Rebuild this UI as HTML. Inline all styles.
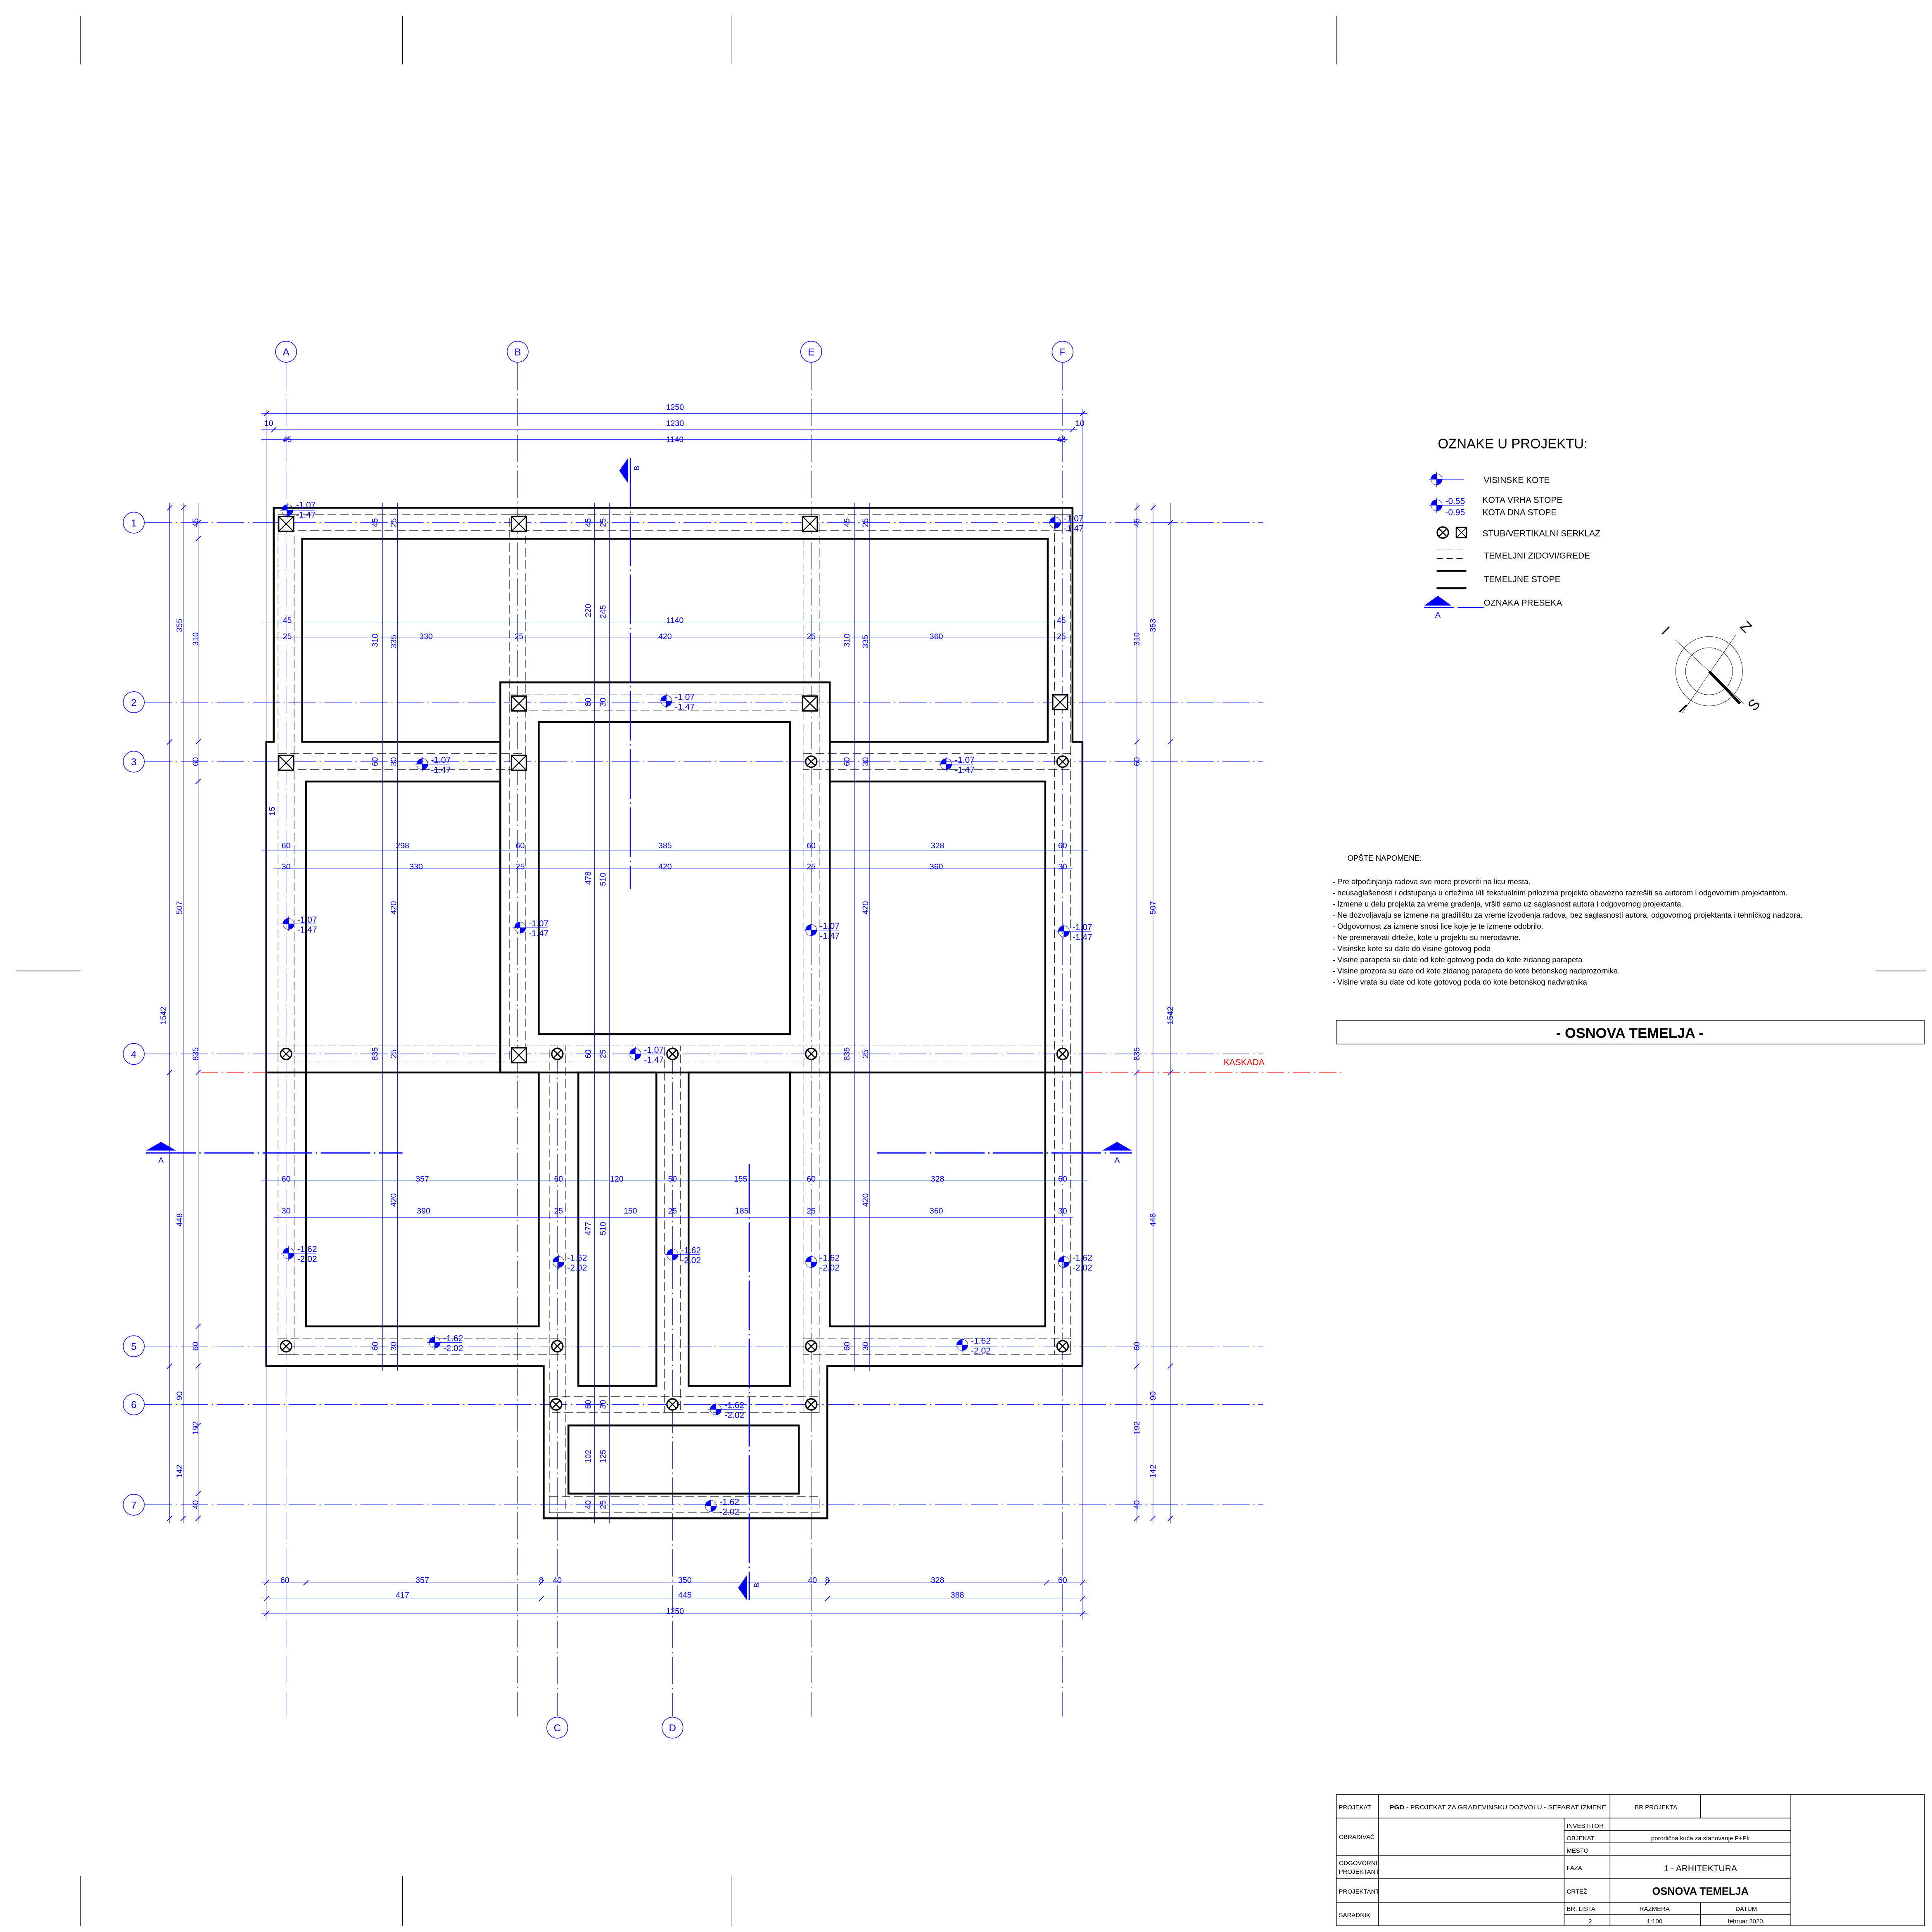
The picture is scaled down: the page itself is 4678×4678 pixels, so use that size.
<!DOCTYPE html>
<html><head><meta charset="utf-8"><style>html,body{margin:0;padding:0;background:#fff}svg{display:block}</style></head><body>
<svg xmlns="http://www.w3.org/2000/svg" xmlns:xlink="http://www.w3.org/1999/xlink" width="4678" height="4678" viewBox="0 0 1560 1560" font-family="'Liberation Sans Narrow','Liberation Sans',sans-serif">
<defs>
<g id="lv"><circle r="4.5" fill="none" stroke="#00f" stroke-width="0.3"/><path d="M0,0L0,-4.5A4.5,4.5 0 0 0 -4.5,0Z M0,0L0,4.5A4.5,4.5 0 0 0 4.5,0Z" fill="#00f"/><line x1="-6" y1="0" x2="22" y2="0" stroke="#00f" stroke-width="0.3"/><line x1="0" y1="-6" x2="0" y2="6" stroke="#00f" stroke-width="0.3"/></g>
<g id="sq"><rect x="-6" y="-6" width="12" height="12" fill="#fff" stroke="#000" stroke-width="1.1"/><path d="M-6,-6L6,6M6,-6L-6,6" stroke="#000" stroke-width="0.8"/></g>
<g id="ci"><circle r="4.5" fill="#fff" stroke="#000" stroke-width="1.1"/><path d="M-3.2,-3.2L3.2,3.2M3.2,-3.2L-3.2,3.2" stroke="#000" stroke-width="0.9"/></g>
</defs>
<rect width="1560" height="1560" fill="#fff"/>
<g stroke="#000" stroke-width="0.4">
<path d="M65,13V52M325,13V52M591,13V52M1079,13V52M65,1515V1555M325,1515V1555M591,1515V1555M13,784H65M1515,784H1555"/>
</g>
<g stroke="#00f" stroke-width="0.35" stroke-dasharray="22,3,1,3" fill="none">
<path d="M231,293V1386M418,293V1386M655,293V1386M858,293V1386M450,845V1386M543,845V1386"/>
<path d="M117,422H1020M117,567H1020M117,615H1020M117,851H1020M117,1087H1020M117,1134H1020M117,1215H1020"/>
</g>
<g fill="none" stroke="#00f" stroke-width="0.5">
<circle cx="231" cy="284" r="8.5"/><circle cx="418" cy="284" r="8.5"/><circle cx="655" cy="284" r="8.5"/><circle cx="858" cy="284" r="8.5"/>
<circle cx="450" cy="1395" r="8.5"/><circle cx="543" cy="1395" r="8.5"/>
<circle cx="108" cy="422" r="8.5"/><circle cx="108" cy="567" r="8.5"/><circle cx="108" cy="615" r="8.5"/><circle cx="108" cy="851" r="8.5"/><circle cx="108" cy="1087" r="8.5"/><circle cx="108" cy="1134" r="8.5"/><circle cx="108" cy="1215" r="8.5"/>
</g>
<g fill="#00f" font-size="8" text-anchor="middle">
<text x="231" y="287">A</text><text x="418" y="287">B</text><text x="655" y="287">E</text><text x="858" y="287">F</text>
<text x="450" y="1398">C</text><text x="543" y="1398">D</text>
<text x="108" y="425">1</text><text x="108" y="570">2</text><text x="108" y="618">3</text><text x="108" y="854">4</text><text x="108" y="1090">5</text><text x="108" y="1137">6</text><text x="108" y="1218">7</text>
</g>
<g fill="none" stroke="#000" stroke-width="0.35" stroke-dasharray="7,3">
<rect x="224.5" y="415.5" width="640" height="13"/>
<rect x="224.5" y="415.5" width="13" height="678"/>
<rect x="851.5" y="415.5" width="13" height="678"/>
<rect x="411.5" y="415.5" width="13" height="442"/>
<rect x="648.5" y="415.5" width="13" height="725"/>
<rect x="411.5" y="560.5" width="250" height="13"/>
<rect x="224.5" y="608.5" width="200" height="13"/>
<rect x="648.5" y="608.5" width="216" height="13"/>
<rect x="224.5" y="844.5" width="640" height="13"/>
<rect x="224.5" y="1080.5" width="232" height="13"/>
<rect x="648.5" y="1080.5" width="216" height="13"/>
<rect x="443.5" y="844.5" width="13" height="377"/>
<rect x="536.5" y="844.5" width="13" height="296"/>
<rect x="443.5" y="1127.5" width="218" height="13"/>
<rect x="443.5" y="1208.5" width="218" height="13"/>
</g>
<line x1="162" y1="866" x2="1085" y2="866" stroke="#f00" stroke-width="0.35" stroke-dasharray="14,3,1,3"/>
<text x="988" y="860" fill="#f00" font-size="7">KASKADA</text>
<g fill="none" stroke="#000" stroke-width="1.5" stroke-linejoin="miter">
<path d="M221,410H866V599H874V1103H668V1226H439V1103H215V599H221Z"/>
<line x1="215" y1="866" x2="874" y2="866"/>
<path d="M244,435H846V599H670V551H404V599H244Z"/>
<rect x="435" y="583" width="203" height="252"/>
<path d="M247,631H404V866H435V1071H247Z"/>
<rect x="670" y="631" width="174" height="440"/>
<rect x="467" y="866" width="63" height="253"/>
<rect x="556" y="866" width="82" height="253"/>
<rect x="459" y="1151" width="186" height="55"/>
<path d="M404,599V866"/><path d="M670,599V631"/>
</g>
<use xlink:href="#sq" x="231" y="423"/><use xlink:href="#sq" x="419" y="423"/><use xlink:href="#sq" x="654" y="423"/>
<use xlink:href="#sq" x="419" y="568"/><use xlink:href="#sq" x="654" y="568"/><use xlink:href="#sq" x="856" y="567"/>
<use xlink:href="#sq" x="231" y="616"/><use xlink:href="#sq" x="419" y="616"/><use xlink:href="#sq" x="419" y="852"/>
<use xlink:href="#ci" x="655" y="615"/><use xlink:href="#ci" x="858" y="615"/>
<use xlink:href="#ci" x="231" y="851"/><use xlink:href="#ci" x="450" y="851"/><use xlink:href="#ci" x="543" y="851"/><use xlink:href="#ci" x="655" y="851"/><use xlink:href="#ci" x="858" y="851"/>
<use xlink:href="#ci" x="231" y="1087"/><use xlink:href="#ci" x="450" y="1087"/><use xlink:href="#ci" x="655" y="1087"/><use xlink:href="#ci" x="858" y="1087"/>
<use xlink:href="#ci" x="449" y="1134"/><use xlink:href="#ci" x="543" y="1134"/><use xlink:href="#ci" x="655" y="1134"/>
<g fill="#00f" font-size="7">
<use xlink:href="#lv" x="232" y="412"/><text x="239" y="410">-1.07</text><text x="239" y="418">-1.47</text>
<use xlink:href="#lv" x="852" y="422"/><text x="859" y="421">-1.07</text><text x="859" y="429">-1.47</text>
<use xlink:href="#lv" x="538" y="566"/><text x="545" y="565">-1.07</text><text x="545" y="573">-1.47</text>
<use xlink:href="#lv" x="341" y="617"/><text x="348" y="616">-1.07</text><text x="348" y="624">-1.47</text>
<use xlink:href="#lv" x="764" y="617"/><text x="771" y="616">-1.07</text><text x="771" y="624">-1.47</text>
<use xlink:href="#lv" x="233" y="746"/><text x="240" y="745">-1.07</text><text x="240" y="753">-1.47</text>
<use xlink:href="#lv" x="420" y="749"/><text x="427" y="748">-1.07</text><text x="427" y="756">-1.47</text>
<use xlink:href="#lv" x="655" y="751"/><text x="662" y="750">-1.07</text><text x="662" y="758">-1.47</text>
<use xlink:href="#lv" x="859" y="752"/><text x="866" y="751">-1.07</text><text x="866" y="759">-1.47</text>
<use xlink:href="#lv" x="513" y="851"/><text x="520" y="850">-1.07</text><text x="520" y="858">-1.47</text>
<use xlink:href="#lv" x="233" y="1012"/><text x="240" y="1011">-1.62</text><text x="240" y="1019">-2.02</text>
<use xlink:href="#lv" x="451" y="1019"/><text x="458" y="1018">-1.62</text><text x="458" y="1026">-2.02</text>
<use xlink:href="#lv" x="543" y="1013"/><text x="550" y="1012">-1.62</text><text x="550" y="1020">-2.02</text>
<use xlink:href="#lv" x="655" y="1019"/><text x="662" y="1018">-1.62</text><text x="662" y="1026">-2.02</text>
<use xlink:href="#lv" x="859" y="1019"/><text x="866" y="1018">-1.62</text><text x="866" y="1026">-2.02</text>
<use xlink:href="#lv" x="351" y="1084"/><text x="358" y="1083">-1.62</text><text x="358" y="1091">-2.02</text>
<use xlink:href="#lv" x="777" y="1086"/><text x="784" y="1085">-1.62</text><text x="784" y="1093">-2.02</text>
<use xlink:href="#lv" x="578" y="1138"/><text x="585" y="1137">-1.62</text><text x="585" y="1145">-2.02</text>
<use xlink:href="#lv" x="574" y="1216"/><text x="581" y="1215">-1.62</text><text x="581" y="1223">-2.02</text>
</g>
<g stroke="#00f" stroke-width="0.35" fill="none">
<path d="M211,334H878M211,347H870M211,355H862"/>
<path d="M211,503H870M221,515H866M211,687H878M221,701H866M211,953H878M221,983H866"/>
<path d="M211,1278H878M211,1291H878M211,1303H878"/>
<path d="M137,406V1230M148,406V1230M160,406V1230M918,406V1230M931,406V1230M945,406V1230"/>
<path d="M309,406V1107M321,406V1107M480,406V1230M492,406V1230M690,406V1107M702,406V1107"/>
<path d="M215,330V1308M874,330V1308" stroke-width="0.25"/>
</g>
<g stroke="#00f" stroke-width="0.6">
<path d="M213,336l4,-4M872,336l4,-4M219,349l4,-4M864,349l4,-4M229,357l4,-4M856,357l4,-4M213,1280l4,-4M872,1280l4,-4M213,1293l4,-4M872,1293l4,-4M213,1305l4,-4M872,1305l4,-4M435,1293l4,-4M666,1293l4,-4M245,1280l4,-4M435,1280l4,-4M666,1280l4,-4M843,1280l4,-4"/>
<path d="M135,412l4,-4M135,601l4,-4M135,868l4,-4M135,1105l4,-4M135,1228l4,-4M146,412l4,-4M146,1228l4,-4M158,424l4,-4M158,437l4,-4M158,601l4,-4M158,633l4,-4M158,868l4,-4M158,1073l4,-4M158,1105l4,-4M158,1153l4,-4M158,1208l4,-4M158,1228l4,-4"/>
<path d="M916,412l4,-4M916,601l4,-4M916,868l4,-4M916,1105l4,-4M916,1228l4,-4M929,412l4,-4M929,1228l4,-4M943,424l4,-4M943,601l4,-4M943,868l4,-4M943,1105l4,-4M943,1228l4,-4"/>
</g>
<g fill="#00f" font-size="6.5" text-anchor="middle">
<text x="545" y="331">1250</text><text x="545" y="344">1230</text><text x="545" y="357">1140</text>
<text x="217" y="344">10</text><text x="872" y="344">10</text><text x="232" y="357">45</text><text x="857" y="357">43</text>
<text x="232" y="503">45</text><text x="545" y="503">1140</text><text x="857" y="503">45</text>
<text x="232" y="516">25</text><text x="344" y="516">330</text><text x="419" y="516">25</text><text x="537" y="516">420</text><text x="655" y="516">25</text><text x="756" y="516">360</text><text x="857" y="516">25</text>
<text x="231" y="685">60</text><text x="325" y="685">298</text><text x="420" y="685">60</text><text x="537" y="685">385</text><text x="655" y="685">60</text><text x="757" y="685">328</text><text x="858" y="685">60</text>
<text x="231" y="702">30</text><text x="336" y="702">330</text><text x="420" y="702">25</text><text x="537" y="702">420</text><text x="655" y="702">25</text><text x="756" y="702">360</text><text x="858" y="702">30</text>
<text x="231" y="954">60</text><text x="341" y="954">357</text><text x="451" y="954">60</text><text x="498" y="954">120</text><text x="543" y="954">50</text><text x="598" y="954">155</text><text x="655" y="954">60</text><text x="757" y="954">328</text><text x="858" y="954">60</text>
<text x="231" y="980">30</text><text x="342" y="980">390</text><text x="451" y="980">25</text><text x="509" y="980">150</text><text x="543" y="980">25</text><text x="599" y="980">185</text><text x="655" y="980">25</text><text x="756" y="980">360</text><text x="858" y="980">30</text>
<text x="230" y="1278">60</text><text x="341" y="1278">357</text><text x="437" y="1278">8</text><text x="450" y="1278">40</text><text x="553" y="1278">350</text><text x="656" y="1278">40</text><text x="668" y="1278">8</text><text x="757" y="1278">328</text><text x="858" y="1278">60</text>
<text x="325" y="1290">417</text><text x="553" y="1290">445</text><text x="773" y="1290">388</text><text x="545" y="1303">1250</text>
</g>
<g fill="#00f" font-size="6.5" text-anchor="middle">
<g transform="translate(147,505) rotate(-90)"><text>355</text></g>
<g transform="translate(147,733) rotate(-90)"><text>507</text></g>
<g transform="translate(134,820) rotate(-90)"><text>1542</text></g>
<g transform="translate(147,985) rotate(-90)"><text>448</text></g>
<g transform="translate(147,1188) rotate(-90)"><text>142</text></g>
<g transform="translate(147,1127) rotate(-90)"><text>90</text></g>
<g transform="translate(160,422) rotate(-90)"><text>45</text></g>
<g transform="translate(160,516) rotate(-90)"><text>310</text></g>
<g transform="translate(160,615) rotate(-90)"><text>60</text></g>
<g transform="translate(160,851) rotate(-90)"><text>835</text></g>
<g transform="translate(160,1087) rotate(-90)"><text>60</text></g>
<g transform="translate(160,1153) rotate(-90)"><text>192</text></g>
<g transform="translate(160,1215) rotate(-90)"><text>40</text></g>
<g transform="translate(920,422) rotate(-90)"><text>45</text></g>
<g transform="translate(920,516) rotate(-90)"><text>310</text></g>
<g transform="translate(920,615) rotate(-90)"><text>60</text></g>
<g transform="translate(920,851) rotate(-90)"><text>835</text></g>
<g transform="translate(920,1087) rotate(-90)"><text>60</text></g>
<g transform="translate(920,1153) rotate(-90)"><text>192</text></g>
<g transform="translate(920,1215) rotate(-90)"><text>40</text></g>
<g transform="translate(933,505) rotate(-90)"><text>353</text></g>
<g transform="translate(933,733) rotate(-90)"><text>507</text></g>
<g transform="translate(947,820) rotate(-90)"><text>1542</text></g>
<g transform="translate(933,985) rotate(-90)"><text>448</text></g>
<g transform="translate(933,1127) rotate(-90)"><text>90</text></g>
<g transform="translate(933,1188) rotate(-90)"><text>142</text></g>
<g transform="translate(305,422) rotate(-90)"><text>45</text></g><g transform="translate(320,422) rotate(-90)"><text>25</text></g>
<g transform="translate(305,517) rotate(-90)"><text>310</text></g><g transform="translate(320,518) rotate(-90)"><text>335</text></g>
<g transform="translate(305,615) rotate(-90)"><text>60</text></g><g transform="translate(320,615) rotate(-90)"><text>30</text></g>
<g transform="translate(320,733) rotate(-90)"><text>420</text></g>
<g transform="translate(305,851) rotate(-90)"><text>835</text></g><g transform="translate(320,851) rotate(-90)"><text>25</text></g>
<g transform="translate(320,969) rotate(-90)"><text>420</text></g>
<g transform="translate(305,1087) rotate(-90)"><text>60</text></g><g transform="translate(320,1087) rotate(-90)"><text>30</text></g>
<g transform="translate(477,422) rotate(-90)"><text>45</text></g><g transform="translate(489,422) rotate(-90)"><text>25</text></g>
<g transform="translate(477,493) rotate(-90)"><text>220</text></g><g transform="translate(489,494) rotate(-90)"><text>245</text></g>
<g transform="translate(477,567) rotate(-90)"><text>60</text></g><g transform="translate(489,567) rotate(-90)"><text>30</text></g>
<g transform="translate(477,709) rotate(-90)"><text>478</text></g><g transform="translate(489,710) rotate(-90)"><text>510</text></g>
<g transform="translate(477,851) rotate(-90)"><text>60</text></g><g transform="translate(489,851) rotate(-90)"><text>25</text></g>
<g transform="translate(477,992) rotate(-90)"><text>477</text></g><g transform="translate(489,992) rotate(-90)"><text>510</text></g>
<g transform="translate(477,1134) rotate(-90)"><text>60</text></g><g transform="translate(489,1134) rotate(-90)"><text>30</text></g>
<g transform="translate(477,1176) rotate(-90)"><text>102</text></g><g transform="translate(489,1176) rotate(-90)"><text>125</text></g>
<g transform="translate(477,1215) rotate(-90)"><text>40</text></g><g transform="translate(489,1215) rotate(-90)"><text>25</text></g>
<g transform="translate(686,422) rotate(-90)"><text>45</text></g><g transform="translate(701,422) rotate(-90)"><text>25</text></g>
<g transform="translate(686,517) rotate(-90)"><text>310</text></g><g transform="translate(701,518) rotate(-90)"><text>335</text></g>
<g transform="translate(686,615) rotate(-90)"><text>60</text></g><g transform="translate(701,615) rotate(-90)"><text>30</text></g>
<g transform="translate(701,733) rotate(-90)"><text>420</text></g>
<g transform="translate(686,851) rotate(-90)"><text>835</text></g><g transform="translate(701,851) rotate(-90)"><text>25</text></g>
<g transform="translate(701,969) rotate(-90)"><text>420</text></g>
<g transform="translate(686,1087) rotate(-90)"><text>60</text></g><g transform="translate(701,1087) rotate(-90)"><text>30</text></g>
<g transform="translate(222,655) rotate(-90)"><text>15</text></g>
</g>
<g stroke="#00f" stroke-width="1" fill="none">
<path d="M118,931H325" stroke-dasharray="40,3,1,3"/>
<path d="M708,931H914" stroke-dasharray="40,3,1,3"/>
<path d="M509,370V718" stroke-dasharray="40,3,1,3"/>
<path d="M605,940V1292" stroke-dasharray="40,3,1,3"/>
</g>
<g fill="#00f">
<path d="M118,929L130,922L142,929Z"/><path d="M890,929L902,922L914,929Z"/>
<path d="M507,370L500,380L507,390Z"/><path d="M603,1272L596,1282L603,1292Z"/>
<text x="130" y="939" font-size="6.5" text-anchor="middle">A</text><text x="902" y="939" font-size="6.5" text-anchor="middle">A</text>
<text x="514" y="382" font-size="6" transform="rotate(-90 514 380)">B</text>
<text x="611" y="1284" font-size="6" transform="rotate(-90 611 1282)">B</text>
</g>
<text x="1161" y="362" font-size="11">OZNAKE U PROJEKTU:</text>
<g font-size="7">
<use xlink:href="#lv" x="1160" y="387"/><text x="1198" y="390">VISINSKE KOTE</text>
<use xlink:href="#lv" x="1160" y="408"/><text x="1167" y="407" fill="#00f">-0.55</text><text x="1167" y="416" fill="#00f">-0.95</text>
<text x="1197" y="406">KOTA VRHA STOPE</text><text x="1197" y="416">KOTA DNA STOPE</text>
<use xlink:href="#ci" x="1165" y="430"/><g transform="translate(1180,430) scale(0.7)"><use xlink:href="#sq"/></g><text x="1197" y="433">STUB/VERTIKALNI SERKLAZ</text>
<path d="M1160,444h5m3,0h5m3,0h5M1160,451h5m3,0h5m3,0h5" stroke="#000" stroke-width="0.4"/><text x="1198" y="451">TEMELJNI ZIDOVI/GREDE</text>
<path d="M1160,461H1184M1160,475H1184" stroke="#000" stroke-width="1.5"/><text x="1198" y="470">TEMELJNE STOPE</text>
<path d="M1150,489L1161,481L1172,489Z" fill="#00f"/><path d="M1150,490.5H1174M1177,490.5H1198" stroke="#00f" stroke-width="1"/>
<text x="1161" y="499" fill="#00f" text-anchor="middle">A</text><text x="1198" y="489">OZNAKA PRESEKA</text>
</g>
<g fill="none" stroke="#000" stroke-width="0.3">
<ellipse cx="1380" cy="542" rx="27" ry="28"/><circle cx="1380" cy="542" r="19"/>
<line x1="1352" y1="516" x2="1408" y2="568"/><line x1="1402" y1="512" x2="1358" y2="576"/>
<line x1="1380" y1="542" x2="1405" y2="568" stroke-width="2.2"/>
</g>
<g font-size="12" text-anchor="middle">
<text transform="translate(1342,512) rotate(45)">I</text>
<text transform="translate(1407,509) rotate(45)">Z</text>
<text transform="translate(1356,575) rotate(45)">I</text>
<text transform="translate(1419,572) rotate(-45)">S</text>
</g>
<g font-size="6.2">
<text x="1088" y="695">OPŠTE NAPOMENE:</text>
<text x="1076" y="714">-   Pre otpočinjanja radova sve mere  proveriti na licu mesta.</text>
<text x="1076" y="723">-   neusaglašenosti i odstupanja u crtežima i/ili tekstualnim prilozima projekta obavezno razrešiti sa autorom i odgovornim projektantom.</text>
<text x="1076" y="732">-   Izmene u delu projekta za vreme građenja, vršiti samo uz saglasnost autora i odgovornog projektanta.</text>
<text x="1076" y="741">-   Ne dozvoljavaju se izmene na gradilištu za vreme izvođenja radova, bez saglasnosti autora, odgovornog projektanta i tehničkog nadzora.</text>
<text x="1076" y="750">-   Odgovornost za izmene snosi lice koje je te izmene odobrilo.</text>
<text x="1076" y="759">-   Ne premeravati drteže, kote u projektu su merodavne.</text>
<text x="1076" y="768">-   Visinske kote su date do visine gotovog poda</text>
<text x="1076" y="777">-   Visine parapeta su date od kote gotovog poda do kote zidanog parapeta</text>
<text x="1076" y="786">-   Visine prozora su date od kote zidanog parapeta do kote betonskog nadprozornika</text>
<text x="1076" y="795">-   Visine vrata su date od kote gotovog poda do kote betonskog nadvratnika</text>
</g>
<rect x="1079" y="824" width="475" height="19" fill="none" stroke="#000" stroke-width="0.4"/>
<text x="1316" y="838" font-size="11.5" font-weight="bold" text-anchor="middle">- OSNOVA TEMELJA -</text>
<g fill="none" stroke="#000" stroke-width="0.5">
<rect x="1079" y="1449" width="475" height="106"/>
<path d="M1113,1449V1555M1446,1449V1555M1300,1449V1468M1373,1449V1468M1263,1468V1555M1300,1468V1555M1373,1536V1555"/>
<path d="M1079,1468H1446M1263,1478H1446M1263,1488H1446M1079,1498H1446M1079,1517H1446M1079,1536H1446M1263,1546H1446"/>
</g>
<g font-size="5">
<text x="1081" y="1461">PROJEKAT</text>
<text x="1122" y="1461" textLength="175" lengthAdjust="spacingAndGlyphs"><tspan font-weight="bold">PGD</tspan> - PROJEKAT ZA GRAĐEVINSKU DOZVOLU - SEPARAT IZMENE</text>
<text x="1320" y="1461">BR.PROJEKTA</text>
<text x="1265" y="1476">INVESTITOR</text>
<text x="1081" y="1485">OBRAĐIVAČ</text>
<text x="1265" y="1486">OBJEKAT</text><text x="1373" y="1486" text-anchor="middle">porodična kuća za stanovanje P+Pk</text>
<text x="1265" y="1496">MESTO</text>
<text x="1081" y="1506">ODGOVORNI</text><text x="1081" y="1513">PROJEKTANT</text>
<text x="1265" y="1510">FAZA</text>
<text x="1373" y="1511" text-anchor="middle" font-size="7">1 - ARHITEKTURA</text>
<text x="1081" y="1529">PROJEKTANT</text>
<text x="1265" y="1529">CRTEŽ</text>
<text x="1373" y="1530" text-anchor="middle" font-size="8.5" font-weight="bold">OSNOVA TEMELJA</text>
<text x="1081" y="1548">SARADNIK</text>
<text x="1265" y="1543">BR. LISTA</text><text x="1336" y="1543" text-anchor="middle">RAZMERA</text><text x="1410" y="1543" text-anchor="middle">DATUM</text>
<text x="1284" y="1553" text-anchor="middle">2</text><text x="1336" y="1553" text-anchor="middle">1:100</text><text x="1410" y="1553" text-anchor="middle">februar 2020.</text>
</g>
</svg>
</body></html>
